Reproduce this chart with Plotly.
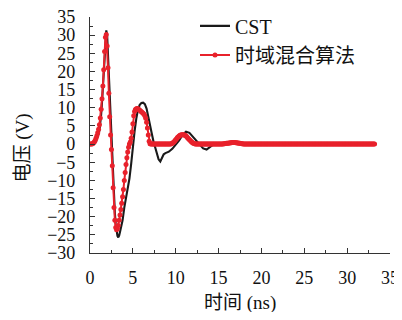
import plotly.graph_objects as go

# ---- data ----
cst_t = [0, 0.3, 0.5, 0.7, 0.9, 1.0, 1.1, 1.2, 1.3, 1.4, 1.5, 1.6, 1.7, 1.8, 1.9, 2.0,
         2.1, 2.2, 2.3, 2.4, 2.5, 2.6, 2.7, 2.8, 2.9, 3.0, 3.1, 3.2, 3.3, 3.4, 3.5, 3.6,
         3.8, 4.0, 4.2, 4.4, 4.6, 4.8, 5.0, 5.2, 5.4, 5.6, 5.8, 6.0, 6.2, 6.4, 6.6, 6.8,
         7.0, 7.2, 7.4, 7.6, 7.8, 8.0, 8.2, 8.4, 8.6, 8.8, 9.0, 9.2, 9.6, 10.0, 10.4,
         10.8, 11.2, 11.6, 12.0, 12.4, 12.8, 13.2, 13.6, 14.0, 14.4, 15.0, 15.6, 16.2,
         16.7, 17.2, 17.8, 18.4, 20.0, 25.0, 30.0, 33.2]
cst_v = [0, 0, 0.2, 0.8, 1.8, 2.7, 3.8, 5.5, 8.0, 11.5, 15.5, 20.0, 25.0, 29.3, 31.3, 30.0,
         24.5, 17.5, 10.5, 4.5, -1.0, -6.0, -11.0, -15.5, -19.0, -22.0, -24.0, -25.3, -25.7,
         -25.2, -24.2, -23.0, -21.0, -17.5, -15.0, -13.0, -9.5, -5.5, -0.5, 3.5, 7.0, 9.5,
         10.8, 11.3, 11.4, 11.0, 9.8, 7.8, 5.5, 3.0, 0.8, -1.0, -2.8, -4.2, -4.8, -3.6,
         -2.8, -2.5, -2.3, -2.1, -1.3, -0.3, 1.0, 2.5, 3.4, 3.1, 2.0, 0.7, -0.4, -1.2,
         -1.5, -0.8, -0.1, 0.1, 0.3, 0.5, 0.6, 0.5, 0.2, 0, 0, 0, 0, 0]

# hybrid time-domain algorithm, sampled every 0.1 ns from 0 to 33.2 ns
hyb_dt = 0.1
hyb_v = [
    0, 0, 0, 0.1, 0.3, 0.6, 1.0, 1.6, 2.3, 3.1,
    4.1, 5.3, 7.2, 9.6, 12.5, 16.0, 20.5, 25.5, 29.4, 30.2,
    27.0, 21.0, 14.0, 7.5, 2.5, -1.5, -6.0, -12.0, -17.5, -21.0,
    -23.0, -23.6, -23.3, -22.4, -21.0, -19.5, -18.0, -16.3, -14.5, -12.5,
    -10.0, -7.8, -5.6, -3.8, -2.2, -0.9, 0.0, 0.6, 1.6, 3.3,
    5.6, 7.8, 9.0, 9.5, 9.7, 9.8, 9.7, 9.5, 9.3, 9.1,
    8.9, 8.7, 8.5, 8.2, 7.8, 7.1, 6.0, 4.4, 2.5, 0.8,
    0.1,
    0, 0, 0, 0, 0, 0, 0, 0, 0, 0, 0, 0, 0, 0, 0, 0, 0, 0, 0, 0, 0, 0, 0, 0,
    0.1, 0.2, 0.4, 0.6, 0.9, 1.2, 1.5, 1.8, 2.0, 2.2,
    2.4, 2.5, 2.6, 2.6, 2.6, 2.5, 2.4, 2.2, 2.0, 1.7,
    1.5, 1.2, 1.0, 0.7, 0.5, 0.3, 0.2, 0.1, 0.05,
    0, 0, 0, 0, 0, 0, 0, 0, 0, 0, 0, 0, 0, 0, 0, 0,
    0, 0, 0, 0, 0, 0, 0, 0, 0, 0, 0, 0, 0, 0, 0,
    0.05, 0.1, 0.1, 0.15, 0.2, 0.2, 0.25, 0.3, 0.3, 0.35, 0.35, 0.4, 0.4,
    0.4, 0.4, 0.35, 0.35, 0.3, 0.3, 0.25, 0.2, 0.15, 0.1, 0.1, 0.05, 0.0,
    0, 0, 0, 0, 0, 0, 0, 0, 0, 0, 0, 0, 0, 0, 0, 0, 0, 0, 0,
    0, 0, 0, 0, 0, 0, 0, 0, 0, 0, 0, 0, 0, 0, 0, 0, 0, 0, 0,
    0, 0, 0, 0, 0, 0, 0, 0, 0, 0, 0, 0, 0, 0, 0, 0, 0, 0, 0,
    0, 0, 0, 0, 0, 0, 0, 0, 0, 0, 0, 0, 0, 0, 0, 0, 0, 0, 0,
    0, 0, 0, 0, 0, 0, 0, 0, 0, 0, 0, 0, 0, 0, 0, 0, 0, 0, 0,
    0, 0, 0, 0, 0, 0, 0, 0, 0, 0, 0, 0, 0, 0, 0, 0, 0, 0, 0,
    0, 0, 0, 0, 0, 0, 0, 0, 0, 0, 0, 0, 0, 0, 0, 0, 0, 0, 0,
    0, 0, 0, 0, 0, 0, 0, 0, 0, 0, 0, 0, 0, 0, 0, 0, 0, 0, 0,
]
hyb_t = [round(i * hyb_dt, 1) for i in range(len(hyb_v))]

names = ["CST", "时域混合算法"]
x_ticks = [0, 5, 10, 15, 20, 25, 30, 35]
y_ticks = [35, 30, 25, 20, 15, 10, 5, 0, -5, -10, -15, -20, -25, -30]
x_title = "时间 (ns)"
y_title = "电压 (V)"

SERIF = "Liberation Serif, Noto Sans CJK SC"
fig = go.Figure()
fig.add_trace(go.Scatter(x=cst_t, y=cst_v, mode="lines", name=names[0],
                         line=dict(color="#1a1a1a", width=2.1)))
fig.add_trace(go.Scatter(x=hyb_t, y=hyb_v, mode="lines+markers", name=names[1],
                         line=dict(color="#e8212b", width=2),
                         marker=dict(color="#e8212b", size=5)))

axis_common = dict(showgrid=False, zeroline=False, showline=True, linecolor="#333",
                   linewidth=1.2, ticks="inside", ticklen=5, tickcolor="#333",
                   tickwidth=1, tickfont=dict(family=SERIF, size=18, color="#111"),
                   mirror=False, automargin=False, ticklabeloverflow="allow")
fig.update_xaxes(range=[0, 35], tickvals=x_ticks, ticklabelstandoff=8,
                 minor=dict(ticks="inside", dtick=2.5, tick0=0, ticklen=3,
                            tickcolor="#333"),
                 **axis_common)
fig.update_yaxes(range=[-30, 35], tickvals=y_ticks, ticklabelstandoff=10,
                 minor=dict(ticks="inside", dtick=2.5, tick0=0, ticklen=3,
                            tickcolor="#333"),
                 **axis_common)

fig.add_annotation(text=x_title, xref="paper", yref="paper", x=0.5, y=-0.212,
                   showarrow=False, font=dict(family=SERIF, size=19, color="#111"),
                   xanchor="center", yanchor="middle")
fig.add_annotation(text=y_title, xref="paper", yref="paper", x=-0.225, y=0.445,
                   showarrow=False, textangle=-90,
                   font=dict(family=SERIF, size=19, color="#111"),
                   xanchor="center", yanchor="middle")

fig.update_layout(
    width=394, height=304,
    margin=dict(l=81.5, r=12, t=9, b=59, autoexpand=False),
    plot_bgcolor="white", paper_bgcolor="white",
    showlegend=True,
    legend=dict(x=0.35, y=1.045, xref="paper", yref="paper",
                xanchor="left", yanchor="top",
                bgcolor="rgba(0,0,0,0)", font=dict(family=SERIF, size=20, color="#111"),
                itemwidth=30, tracegroupgap=0),
)
fig.write_html("out.html")
